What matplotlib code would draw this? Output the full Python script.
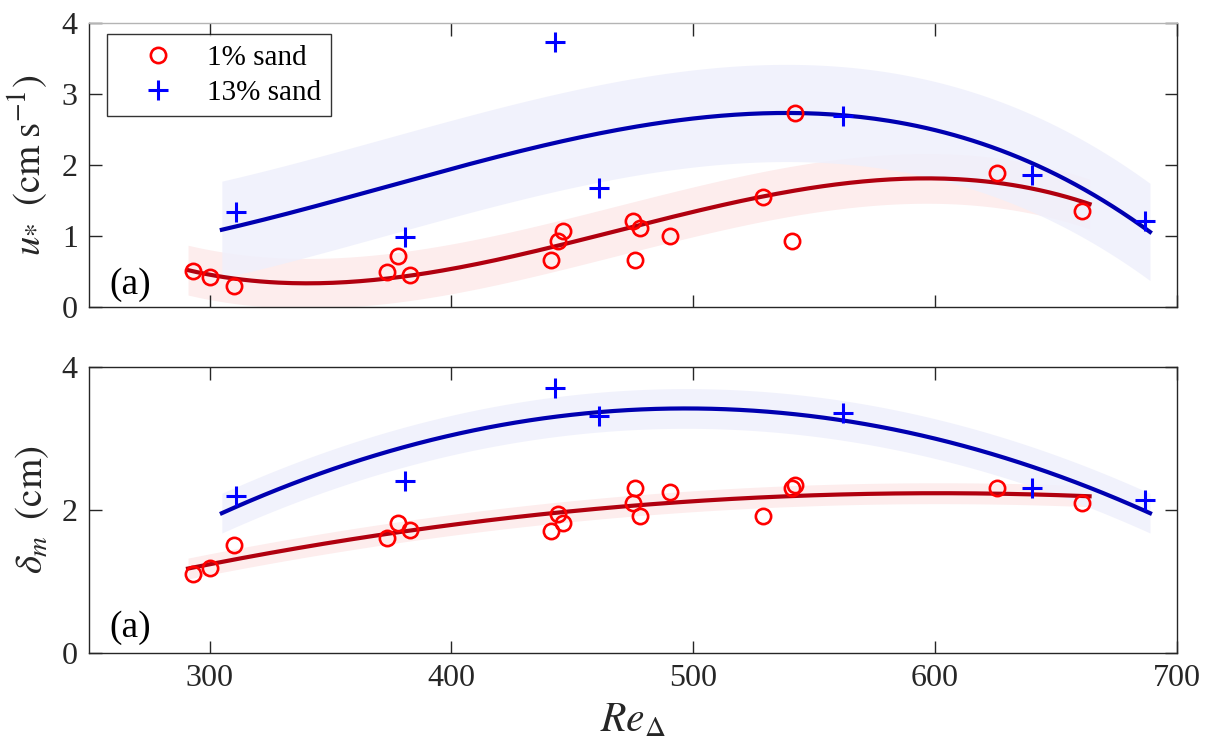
import numpy as np
import matplotlib
matplotlib.use('Agg')
from matplotlib import pyplot as plt

plt.rcParams['font.family'] = ['Liberation Serif', 'DejaVu Serif']
plt.rcParams['mathtext.fontset'] = 'stix'

# 1% sand (red circles)
re_1 = [293, 300, 310, 373.5, 378, 383, 441, 444, 446, 475, 476, 478, 490.5, 529, 541, 542, 625.6, 661]
u_1 = [0.51, 0.42, 0.30, 0.50, 0.72, 0.45, 0.66, 0.93, 1.07, 1.22, 0.66, 1.11, 1.01, 1.55, 0.93, 2.73, 1.89, 1.35]
d_1 = [1.10, 1.19, 1.51, 1.61, 1.82, 1.72, 1.71, 1.94, 1.82, 2.10, 2.31, 1.92, 2.25, 1.92, 2.31, 2.35, 2.31, 2.10]

# 13% sand (blue plus)
re_13 = [311, 380.6, 443, 461, 562, 640, 687]
u_13 = [1.34, 0.99, 3.73, 1.68, 2.69, 1.86, 1.22]
d_13 = [2.20, 2.41, 3.71, 3.31, 3.36, 2.31, 2.14]

xticks = [300, 400, 500, 600, 700]
yticks_u = [0, 1, 2, 3, 4]
yticks_d = [0, 2, 4]

red_pt, blue_pt = '#ff0000', '#0000ff'
red_ln, blue_ln = '#b0000f', '#0000b0'
red_fill, blue_fill = '#fdeded', '#eff0fc'
axcol = '#262626'


def fit_band(x, y, deg, lo, hi):
    x = np.asarray(x, float)
    y = np.asarray(y, float)
    p = np.polyfit(x, y, deg)
    rmse = np.sqrt(np.mean((np.polyval(p, x) - y)**2))
    xs = np.linspace(lo, hi, 200)
    ys = np.polyval(p, xs)
    return xs, ys, rmse


fig = plt.figure(figsize=(12.18, 7.44), dpi=100)
ax1 = fig.add_axes([0.073, 0.587, 0.893, 0.382])
ax2 = fig.add_axes([0.073, 0.122, 0.893, 0.385])

panels = [(ax1, u_1, u_13, 3, yticks_u, r'$u_{*}\;\;\mathrm{(cm\;s^{-1})}$', 0.078),
          (ax2, d_1, d_13, 2, yticks_d, r'$\delta_m\;\;\mathrm{(cm)}$', 0.088)]

for ax, y1, y13, deg, yt, lab, ay in panels:
    xs, ys, e = fit_band(re_1, y1, deg, 291, 664)
    ax.fill_between(xs, ys - e, ys + e, color=red_fill, lw=0, zorder=1)
    xb, yb, eb = fit_band(re_13, y13, deg, 305, 689)
    ax.fill_between(xb, yb - eb, yb + eb, color=blue_fill, lw=0, zorder=1, alpha=0.85)
    ax.plot(xs, ys, color=red_ln, lw=3, zorder=2)
    ax.plot(xb, yb, color=blue_ln, lw=3, zorder=2)
    ax.plot(re_1, y1, 'o', mfc='none', mec=red_pt, ms=11, mew=1.9, zorder=3, label='1% sand')
    ax.plot(re_13, y13, '+', color=blue_pt, ms=14, mew=2.2, zorder=3, label='13% sand')
    ax.set_xlim(250, 700)
    ax.set_ylim(0, 4)
    ax.set_xticks(xticks)
    ax.set_yticks(yt)
    ax.tick_params(direction='in', length=9, width=1, top=True, right=True,
                   labelsize=23, colors=axcol, pad=8)
    for s in ax.spines.values():
        s.set_color(axcol)
        s.set_linewidth(1)
    ax.set_ylabel(lab, fontsize=28, color=axcol, labelpad=8)
    ax.text(0.019, ay, '(a)', transform=ax.transAxes, fontsize=27, va='center', ha='left')

ax1.spines['top'].set_color('#b4b4b4')
ax1.tick_params(labelbottom=False)
ax2.set_xlabel(r'$Re_{\Delta}$', fontsize=30, color=axcol, labelpad=6)

leg = ax1.legend(loc='upper left', fontsize=21, frameon=True, fancybox=False,
                 edgecolor='#000000', borderpad=0.35, handlelength=2.75,
                 bbox_to_anchor=(0.017, 0.96), handletextpad=0.3, borderaxespad=0,
                 labelspacing=0.3)
leg.get_frame().set_linewidth(1)

fig.savefig('out.png', dpi=100)
